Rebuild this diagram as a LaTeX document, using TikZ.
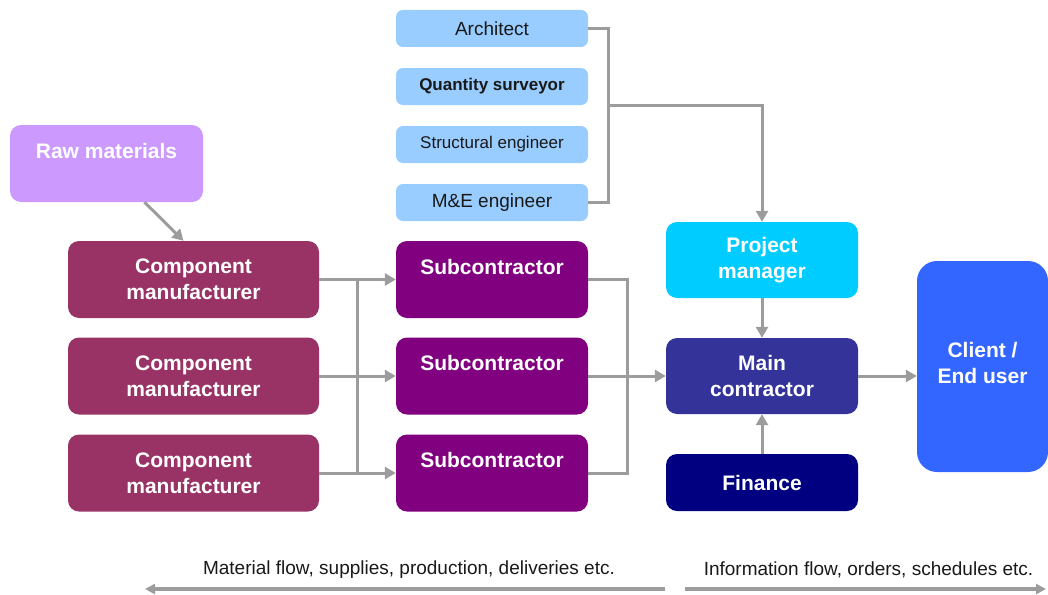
\documentclass[tikz,border=0pt]{standalone}
\usepackage{fontspec}
\setmainfont{Liberation Sans}
\usetikzlibrary{arrows.meta}
\definecolor{rawc}{HTML}{CC99FF}
\definecolor{compc}{HTML}{993366}
\definecolor{subc}{HTML}{800080}
\definecolor{advc}{HTML}{99CCFF}
\definecolor{pmc}{HTML}{00CCFF}
\definecolor{mainc}{HTML}{333399}
\definecolor{finc}{HTML}{000080}
\definecolor{clientc}{HTML}{3366FF}
\definecolor{linec}{HTML}{9C9C9C}
\tikzset{
  box/.style={rounded corners=11pt, inner sep=0pt, align=center, text=white,
      font=\fontsize{21}{26}\selectfont\bfseries},
  advbox/.style={rounded corners=7pt, fill=advc, inner sep=0pt,
      minimum width=192pt, minimum height=37pt, text=black!90},
  flow/.style={draw=linec, line width=3pt, -{Triangle[length=11pt,width=12pt]}},
  wire/.style={draw=linec, line width=3pt},
}
\begin{document}
\begin{tikzpicture}[x=1pt,y=-1pt]
                  \useasboundingbox (0,0) rectangle (1048,594);

                  % suppliers
                  \node[box, fill=rawc, minimum width=193pt, minimum height=77pt]
                      (raw) at (106.5,163.5) {Raw materials\\\mbox{}};
                  \begin{scope}[every node/.style={box, fill=compc, minimum width=251pt, minimum height=77pt}]
                      \node (comp1) at (193.5,279.5) {Component\\manufacturer};
                      \node (comp2) at (193.5,376) {Component\\manufacturer};
                      \node (comp3) at (193.5,473) {Component\\manufacturer};
                  \end{scope}
                  \begin{scope}[every node/.style={box, fill=subc, minimum width=192pt, minimum height=77pt}]
                      \node (sub1) at (492,279.5) {Subcontractor\\\mbox{}};
                      \node (sub2) at (492,376) {Subcontractor\\\mbox{}};
                      \node (sub3) at (492,473) {Subcontractor\\\mbox{}};
                  \end{scope}

                  % consultants
                  \node[advbox, font=\fontsize{19}{23}\selectfont] (arch) at (492,28.5) {Architect};
                  \node[advbox, font=\fontsize{17}{21}\selectfont\bfseries] (qs) at (492,86.5) {Quantity surveyor};
                  \node[advbox, font=\fontsize{17}{21}\selectfont] (se) at (492,144.5) {Structural engineer};
                  \node[advbox, font=\fontsize{19}{23}\selectfont] (me) at (492,202.5) {M\&E engineer};

                  \node[box, fill=pmc, minimum width=192pt, minimum height=76pt]
                      (pm) at (762,260) {Project\\manager};
                  \node[box, fill=mainc, minimum width=192pt, minimum height=76pt]
                      (main) at (762,376) {Main\\contractor};
                  \node[box, fill=finc, minimum width=192pt, minimum height=57pt]
                      (fin) at (762,482.5) {Finance};
                  \node[box, fill=clientc, rounded corners=20pt, minimum width=131pt, minimum height=211pt]
                      (client) at (982.5,366.5) {Client /\\End user\\[-18pt]\mbox{}};

                  \coordinate (cbus) at (357,0);
                  \coordinate (sbus) at (627,0);
                  \coordinate (abus) at (608,0);

                  \draw[flow] ([xshift=38pt]raw.south) -- ([xshift=-10pt]comp1.north);
                  \foreach \i in {1,2,3} {
                          \draw[flow] (comp\i.east) -- (sub\i.west);
                      }
                  \draw[wire] (cbus |- comp1.east) -- (cbus |- comp3.east);
                  \draw[wire] (sub1.east) -| (sbus |- sub3.east) -- (sub3.east);
                  \draw[flow] (sub2.east) -- (main.west);

                  \draw[wire] (arch.east) -| (abus |- me.east) -- (me.east);
                  \draw[flow] (abus |- qs.south) -| (pm.north);
                  \draw[flow] (pm.south) -- (main.north);
                  \draw[flow] (fin.north) -- (main.south);
                  \draw[flow] (main.east) -- (main.east -| client.west);

                  % legend
                  \coordinate (matR) at (665,589);
                  \coordinate (matL) at (145,589);
                  \coordinate (infL) at (685,589);
                  \coordinate (infR) at (1046,589);
                  \begin{scope}[line width=3.5pt, draw=linec, -{Triangle[length=10pt,width=10pt]}]
                      \draw (matR) -- (matL);
                      \draw (infL) -- (infR);
                  \end{scope}
                  \begin{scope}[font=\fontsize{19}{23}\selectfont, text=black!90]
                      \node (matlbl) at (409,570) {Material flow, supplies, production, deliveries etc.};
                      \node (inflbl) at (868.5,570) {Information flow, orders, schedules etc.};
                  \end{scope}
              \end{tikzpicture}
\end{document}
